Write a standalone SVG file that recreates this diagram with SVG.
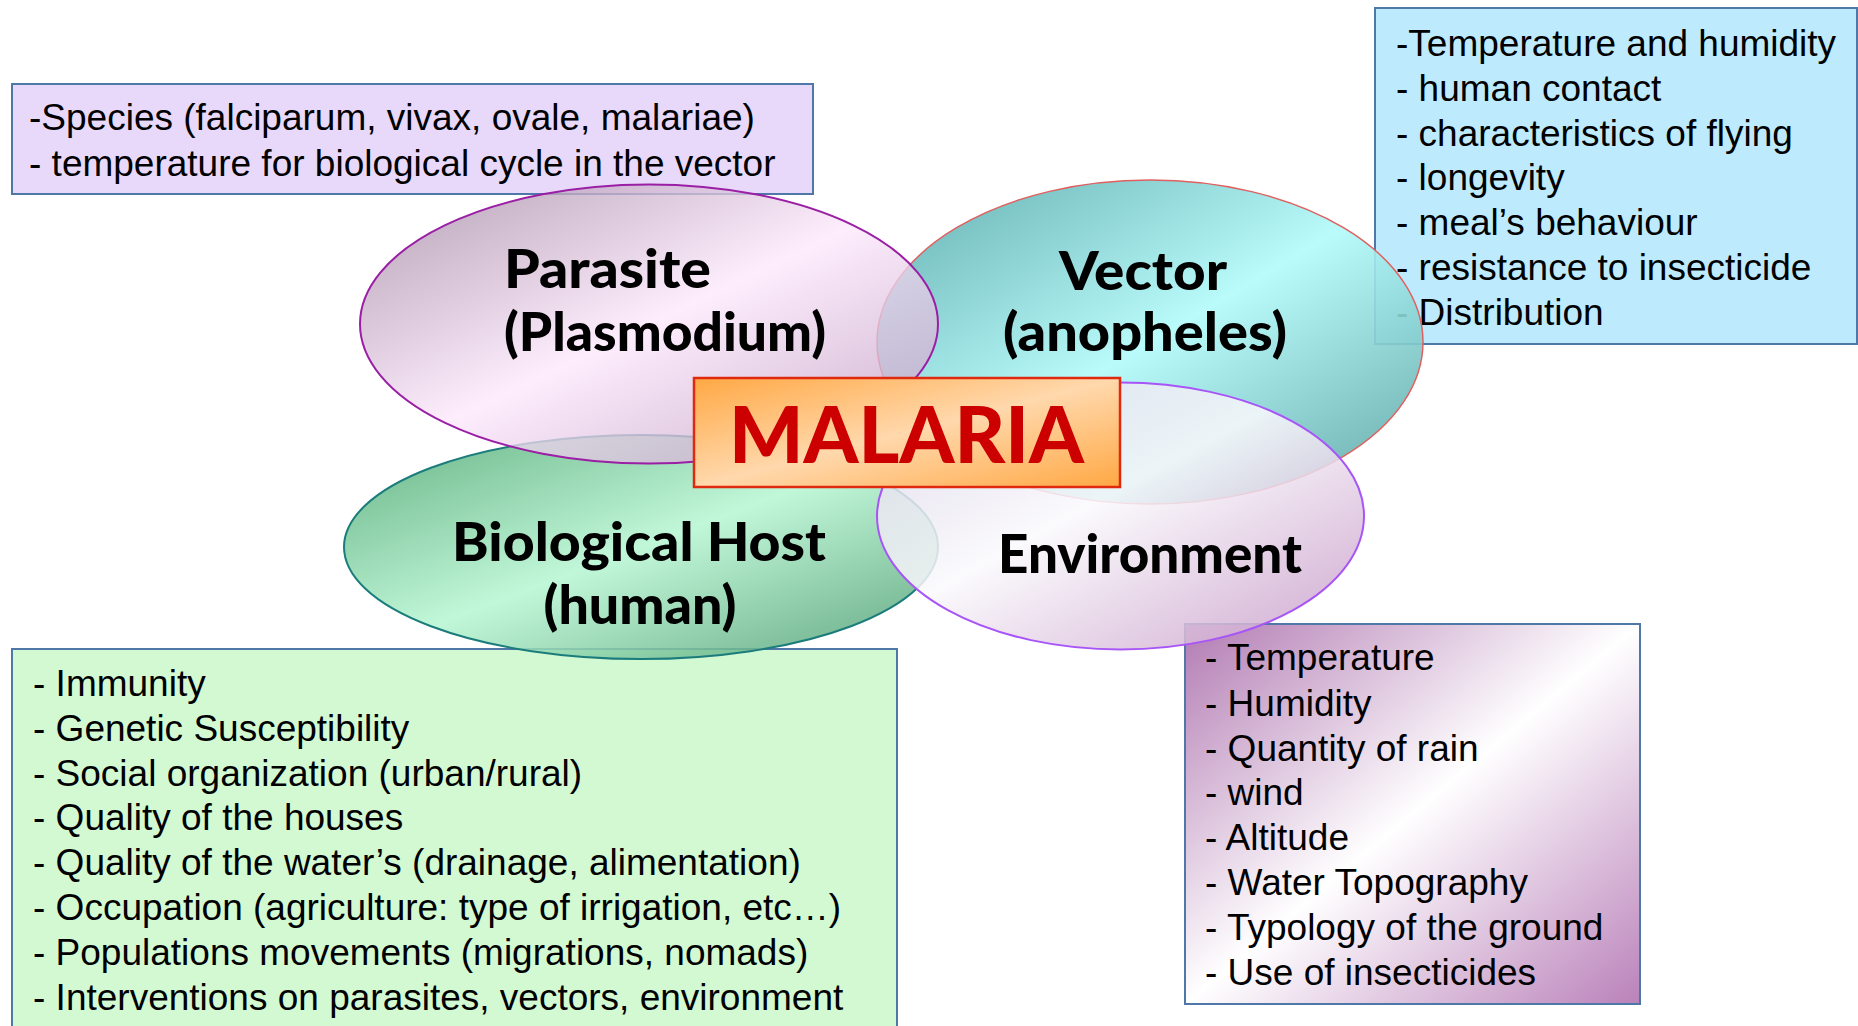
<svg xmlns="http://www.w3.org/2000/svg" width="1858" height="1026" viewBox="0 0 1858 1026">
  <defs>
    <linearGradient id="gParasite" x1="0" y1="0" x2="1" y2="1">
      <stop offset="0" stop-color="#A0849F"/>
      <stop offset="0.5" stop-color="#FCE8FC"/>
      <stop offset="1" stop-color="#B893BA"/>
    </linearGradient>
    <linearGradient id="gVector" x1="0" y1="0" x2="1" y2="1">
      <stop offset="0" stop-color="#52A4A6"/>
      <stop offset="0.5" stop-color="#B2FAFA"/>
      <stop offset="1" stop-color="#529C9C"/>
    </linearGradient>
    <linearGradient id="gHost" x1="0" y1="0" x2="1" y2="1">
      <stop offset="0" stop-color="#4AA46E"/>
      <stop offset="0.5" stop-color="#B6F6D2"/>
      <stop offset="1" stop-color="#46966A"/>
    </linearGradient>
    <linearGradient id="gEnv" x1="0" y1="0" x2="1" y2="1">
      <stop offset="0" stop-color="#D8D2E6"/>
      <stop offset="0.45" stop-color="#FAF9FC"/>
      <stop offset="1" stop-color="#C597C6"/>
    </linearGradient>
    <linearGradient id="gEnvBox" x1="0" y1="0" x2="1" y2="1">
      <stop offset="0" stop-color="#B27BB3"/>
      <stop offset="0.5" stop-color="#FFFFFF"/>
      <stop offset="1" stop-color="#BA82BA"/>
    </linearGradient>
    <linearGradient id="gMalaria" x1="0" y1="0" x2="1" y2="1">
      <stop offset="0" stop-color="#FFA844"/>
      <stop offset="0.5" stop-color="#FFD8AC"/>
      <stop offset="1" stop-color="#FFA844"/>
    </linearGradient>
  </defs>
  <style>
    .box { stroke: #4F77A8; stroke-width: 2; }
    .info { font-family: "Liberation Sans", Arial, sans-serif; font-size: 37px; fill: #000000; }
    .lbl { font-family: "Comic Sans MS", "Lato", "DejaVu Sans", sans-serif; font-weight: 900; font-size: 54px; fill: #000000; }
    .mal { font-family: "Comic Sans MS", "Lato", "DejaVu Sans", sans-serif; font-weight: 900; font-size: 78px; fill: #CC0000; }
  </style>
  <rect width="1858" height="1026" fill="#FFFFFF"/>

  <g id="parasite-info">
    <rect class="box" x="12" y="84" width="801" height="110" fill="#E8D9FB"/>
    <text class="info" x="29" y="130">-Species (falciparum, vivax, ovale, malariae)</text>
    <text class="info" x="29" y="176">- temperature for biological cycle in the vector</text>
  </g>

  <g id="vector-info">
    <rect class="box" x="1375" y="8" width="482" height="336" fill="#BDEBFD"/>
    <text class="info" x="1396" y="56">-Temperature and humidity</text>
    <text class="info" x="1396" y="101">- human contact</text>
    <text class="info" x="1396" y="146">- characteristics of flying</text>
    <text class="info" x="1396" y="190">- longevity</text>
    <text class="info" x="1396" y="235">- meal’s behaviour</text>
    <text class="info" x="1396" y="280">- resistance to insecticide</text>
    <text class="info" x="1396" y="325">- Distribution</text>
  </g>

  <g id="host-info">
    <rect class="box" x="12" y="649" width="885" height="390" fill="#D3F9D3"/>
    <text class="info" x="33" y="696">- Immunity</text>
    <text class="info" x="33" y="741">- Genetic Susceptibility</text>
    <text class="info" x="33" y="786">- Social organization (urban/rural)</text>
    <text class="info" x="33" y="830">- Quality of the houses</text>
    <text class="info" x="33" y="875">- Quality of the water’s (drainage, alimentation)</text>
    <text class="info" x="33" y="920">- Occupation (agriculture: type of irrigation, etc…)</text>
    <text class="info" x="33" y="965">- Populations movements (migrations, nomads)</text>
    <text class="info" x="33" y="1010">- Interventions on parasites, vectors, environment</text>
  </g>

  <g id="environment-info">
    <rect class="box" x="1185" y="624" width="455" height="380" fill="url(#gEnvBox)"/>
    <text class="info" x="1205" y="670">- Temperature</text>
    <text class="info" x="1205" y="715.5">- Humidity</text>
    <text class="info" x="1205" y="760.5">- Quantity of rain</text>
    <text class="info" x="1205" y="805">- wind</text>
    <text class="info" x="1205" y="850">- Altitude</text>
    <text class="info" x="1205" y="895">- Water Topography</text>
    <text class="info" x="1205" y="940">- Typology of the ground</text>
    <text class="info" x="1205" y="985">- Use of insecticides</text>
  </g>

  <g id="host">
    <ellipse cx="641" cy="547" rx="297" ry="112" fill="url(#gHost)" fill-opacity="0.85" stroke="#1B7C7C" stroke-width="2"/>
    <text class="lbl" x="639" y="561" text-anchor="middle" textLength="374" lengthAdjust="spacingAndGlyphs">Biological Host</text>
    <text class="lbl" x="640" y="624" text-anchor="middle" textLength="193" lengthAdjust="spacingAndGlyphs">(human)</text>
  </g>

  <g id="vector">
    <ellipse cx="1150" cy="342" rx="273" ry="162" fill="url(#gVector)" fill-opacity="0.9" stroke="#E06060" stroke-width="1.5"/>
    <text class="lbl" x="1143" y="290" text-anchor="middle" textLength="168" lengthAdjust="spacingAndGlyphs">Vector</text>
    <text class="lbl" x="1145" y="351" text-anchor="middle" textLength="284" lengthAdjust="spacingAndGlyphs">(anopheles)</text>
  </g>

  <g id="parasite">
    <ellipse cx="649" cy="324" rx="289" ry="139.5" fill="url(#gParasite)" fill-opacity="0.78" stroke="#9A1FA5" stroke-width="2"/>
    <text class="lbl" x="504" y="288" textLength="207" lengthAdjust="spacingAndGlyphs">Parasite</text>
    <text class="lbl" x="504" y="351" textLength="322" lengthAdjust="spacingAndGlyphs">(Plasmodium)</text>
  </g>

  <g id="environment">
    <ellipse cx="1120.5" cy="516" rx="243.5" ry="133.5" fill="url(#gEnv)" fill-opacity="0.85" stroke="#A855F7" stroke-width="2"/>
    <text class="lbl" x="1150" y="573" text-anchor="middle" textLength="304" lengthAdjust="spacingAndGlyphs">Environment</text>
  </g>

  <g id="malaria">
    <rect x="694" y="378" width="426" height="109" fill="url(#gMalaria)" stroke="#E02A10" stroke-width="2.5"/>
    <text class="mal" x="906.5" y="463" text-anchor="middle" textLength="355" lengthAdjust="spacingAndGlyphs">MALARIA</text>
  </g>

  <g id="connectors"></g>
</svg>
